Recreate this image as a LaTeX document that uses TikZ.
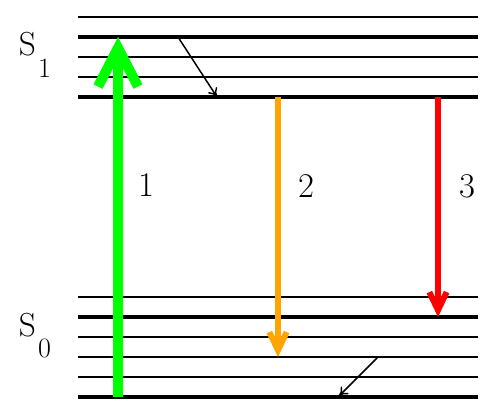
\documentclass[tikz,border=0pt]{standalone}
\usetikzlibrary{arrows.meta}
\definecolor{vgreen}{RGB}{0,255,0}
\definecolor{vorange}{RGB}{255,165,0}
\definecolor{vred}{RGB}{255,0,0}
\tikzset{
  thinlevel/.style={line width=1.5pt},
  thicklevel/.style={line width=3pt},
  bigarrow/.style={line width=7.5pt, vgreen, -{Straight Barb[length=29pt,width=30pt]}},
  midarrow/.style={line width=4.5pt, -{Straight Barb[length=13.5pt,width=13pt]}},
  relax/.style={line width=1.1pt, -{To[length=6.5pt,width=8pt]}},
  lbl/.style={inner sep=0pt, anchor=base, font=\fontsize{26}{26}\selectfont},
  statelbl/.style={inner sep=0pt, anchor=base west, font=\fontsize{25}{25}\selectfont},
}
\begin{document}
\begin{tikzpicture}[x=0.75pt,y=-0.75pt]
\useasboundingbox (0,0) rectangle (500,418);
% S1 levels
\draw[thinlevel]  (78,17) -- (478,17);
\draw[thicklevel] (78,37) -- (478,37);
\draw[thinlevel]  (78,57) -- (478,57);
\draw[thinlevel]  (78,77) -- (478,77);
\draw[thicklevel] (78,97) -- (478,97);
% S0 levels
\draw[thinlevel]  (78,297) -- (478,297);
\draw[thicklevel] (78,317) -- (478,317);
\draw[thinlevel]  (78,337) -- (478,337);
\draw[thinlevel]  (78,357) -- (478,357);
\draw[thinlevel]  (78,377) -- (478,377);
\draw[thicklevel] (78,397) -- (478,397);
% coordinates
\coordinate (g0) at (118,397);
\coordinate (g1) at (118,37);
\coordinate (o0) at (278,97);
\coordinate (o1) at (278,357);
\coordinate (r0) at (438,97);
\coordinate (r1) at (438,317);
\coordinate (a0) at (178,37);
\coordinate (a1) at (217,97);
\coordinate (b0) at (378,357);
\coordinate (b1) at (339,396);
% arrows
\draw[bigarrow] (g0) -- (g1);
\draw[midarrow, vorange] (o0) -- (o1);
\draw[midarrow, vred] (r0) -- (r1);
\draw[relax] (a0) -- (a1);
\draw[relax] (b0) -- (b1);
% labels
\node[lbl] (l1) at (146,196) {1};
\node[lbl] (l2) at (306,197) {2};
\node[lbl] (l3) at (467,197) {3};
\node[statelbl] (s1) at (18.5,55) {S\kern1.8pt\raisebox{-16.5pt}{\fontsize{21}{21}\selectfont 1}};
\node[statelbl] (s0) at (18.5,336) {S\kern1.8pt\raisebox{-16pt}{\fontsize{21}{21}\selectfont 0}};
\end{tikzpicture}
\end{document}
